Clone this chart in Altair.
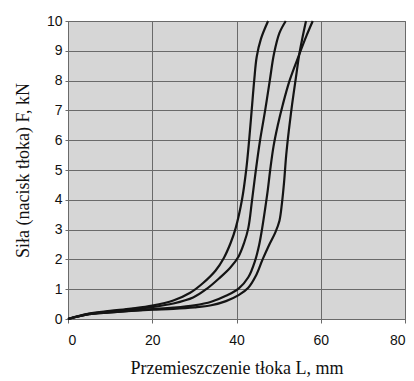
import altair as alt
import pandas as pd

# Curve A (leftmost)
a_x = [0, 5, 10, 15, 20, 25, 29, 32, 35, 37, 38.6, 39.8, 41.3, 42.3, 43.0, 43.6, 44.2, 44.8, 45.8, 47.5]
a_y = [0, 0.18, 0.27, 0.35, 0.45, 0.62, 0.88, 1.2, 1.62, 2.05, 2.55, 3.05, 4.0, 5.0, 6.0, 7.0, 8.0, 8.8, 9.4, 10.0]
# Curve B
b_x = [0, 5, 10, 15, 20, 25, 29.7, 33, 36, 38.5, 40.5, 41.8, 42.8, 43.7, 44.6, 45.6, 46.8, 47.9, 48.9, 50.2, 51.7]
b_y = [0, 0.17, 0.25, 0.32, 0.4, 0.52, 0.72, 1.02, 1.38, 1.72, 2.1, 2.55, 3.05, 4.0, 5.0, 6.0, 7.0, 8.0, 8.9, 9.6, 10.0]
# Curve C (steep at top, ends near 56.5)
c_x = [0, 5, 10, 15, 20, 25, 30, 34, 37.5, 40.5, 42.8, 44.6, 46.2, 47.8, 49.2, 50.2, 50.8, 51.3, 51.8, 52.4, 53.2, 54.1, 54.9, 55.6, 56.5]
c_y = [0, 0.16, 0.22, 0.27, 0.31, 0.34, 0.39, 0.46, 0.6, 0.8, 1.05, 1.45, 2.0, 2.5, 2.9, 3.3, 3.9, 4.6, 5.5, 6.3, 7.2, 8.1, 8.88, 9.4, 10.0]
# Curve D (gradual at top, ends near 58.1)
d_x = [0, 5, 10, 15, 20, 25, 30, 34, 37.5, 40.5, 42.8, 44.4, 45.4, 46.1, 46.8, 47.4, 48.0, 48.8, 49.8, 51.0, 52.6, 54.9, 56.6, 58.1]
d_y = [0, 0.16, 0.22, 0.28, 0.33, 0.38, 0.46, 0.58, 0.78, 1.02, 1.4, 1.95, 2.5, 3.05, 3.7, 4.3, 5.0, 5.8, 6.5, 7.2, 8.0, 8.88, 9.5, 10.0]

x_ticks = [0, 20, 40, 60, 80]
y_ticks = [0, 1, 2, 3, 4, 5, 6, 7, 8, 9, 10]

rows = []
for name, xs, ys in [("A", a_x, a_y), ("B", b_x, b_y), ("C", c_x, c_y), ("D", d_x, d_y)]:
    for i, (xv, yv) in enumerate(zip(xs, ys)):
        rows.append({"curve": name, "L": xv, "F": yv, "i": i})
df = pd.DataFrame(rows)

chart = alt.Chart(df).mark_line(
    color="#141414", strokeWidth=2.2, interpolate="catmull-rom"
).encode(
    x=alt.X("L:Q", scale=alt.Scale(domain=[0, 80], nice=False),
            axis=alt.Axis(values=x_ticks, title="Przemieszczenie tłoka L, mm",
                          tickSize=4, labelPadding=10, titlePadding=12)),
    y=alt.Y("F:Q", scale=alt.Scale(domain=[0, 10], nice=False),
            axis=alt.Axis(values=y_ticks, title="Siła (nacisk tłoka) F, kN",
                          tickSize=3, labelPadding=3, titlePadding=14)),
    detail="curve:N",
    order="i:Q",
).properties(
    width=337, height=298,
    background="white",
    autosize=alt.AutoSizeParams(type="none"),
    padding={"left": 68, "top": 21, "right": 9, "bottom": 62},
).configure_view(
    fill="#d6d6d6", stroke="#6f6f6f", strokeWidth=1
).configure_axis(
    grid=True, gridColor="#6a6a6a", gridWidth=1, gridOpacity=1,
    domainColor="#6a6a6a", tickColor="#6a6a6a",
    labelFont="Liberation Sans", labelFontSize=14, labelColor="#111111",
    titleFont="Liberation Serif", titleFontSize=18, titleFontWeight="normal",
    titleColor="#111111",
)

chart.save("out.html", embed_options={"renderer": "svg", "actions": False})
